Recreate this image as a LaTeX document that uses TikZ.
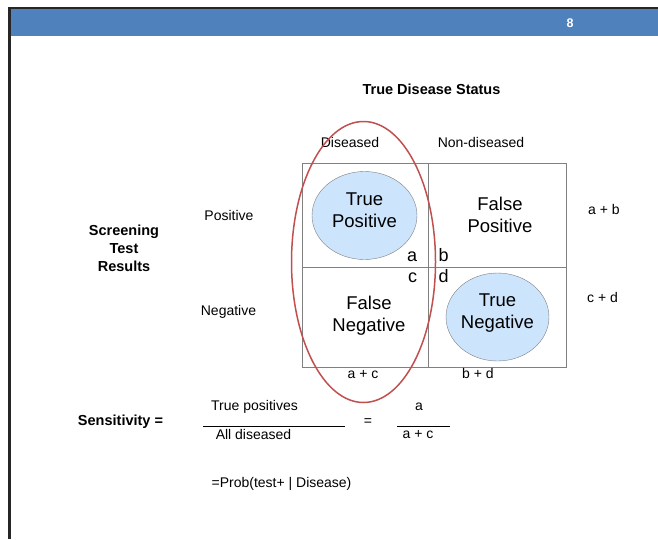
\documentclass[tikz,border=0pt]{standalone}
\usepackage{fontspec}
\setmainfont{Liberation Sans}
\usetikzlibrary{shapes.geometric, positioning}
\definecolor{barblue}{RGB}{79,129,189}
\definecolor{ballblue}{RGB}{204,228,252}
\definecolor{ringred}{RGB}{192,80,77}
\definecolor{gridgray}{RGB}{128,128,128}

\begin{document}
\begin{tikzpicture}[x=1pt, y=-1pt,
        lbl/.style={font=\fontsize{14}{17}\selectfont, inner sep=0pt, anchor=base},
        head/.style={font=\fontsize{14.5}{18}\selectfont\bfseries, align=center, inner sep=0pt},
        cell/.style={font=\fontsize{18.5}{22}\selectfont, align=center, inner sep=0pt},
        corner/.style={font=\fontsize{18}{21}\selectfont, inner sep=0pt, anchor=base},
        ball/.style={ellipse, draw=gridgray, fill=ballblue, minimum width=105pt, minimum height=88pt, inner sep=0pt},
        ring/.style={ellipse, draw=ringred, line width=1.5pt, minimum width=144pt, minimum height=281pt, inner sep=0pt},
        grid/.style={draw=gridgray, line width=0.8pt}
    ]
        \useasboundingbox (0,0) rectangle (658,539);

        % Slide frame
        \fill[barblue] (11,9) rectangle (658,36);
        \draw[black!85, line width=1.5pt] (8,8) -- (658,8);
        \draw[black!85, line width=2.5pt] (9.7,8) -- (9.7,539);
        \node[font=\fontsize{12.5}{14}\selectfont\bfseries, text=white, inner sep=0pt, anchor=base] (page) at (570,27) {8};

        % Table
        \draw[grid] (302,163) rectangle (566,367);
        \draw[grid] (428,163) -- (428,367);
        \draw[grid] (302,267) -- (566,267);

        % Column labels
        \node[head, anchor=base] (status) at (431.5,94) {True Disease Status};
        \node[lbl] (dis) at (350,147) {Diseased};
        \node[lbl] (nondis) at (481,147) {Non-diseased};

        % Row labels
        \node[head] (screen) at (124,248.5) {Screening\\Test\\Results};
        \node[lbl] (pos) at (229,220) {Positive};
        \node[lbl] (neg) at (228.5,315) {Negative};

        % Cells
        \node[ball] (tpball) at (364.5,215.5) {};
        \node[cell] (tp) at (364.5,210.5) {True\\Positive};
        \node[cell] (fp) at (500,215) {False\\Positive};
        \node[cell] (fn) at (369,316) {False\\Negative};
        \node[ball, minimum width=103pt] (tnball) at (497.5,317) {};
        \node[cell] (tn) at (497.5,313) {True\\Negative};

        % Corner letters
        \node[corner] (a) at (412,261) {a};
        \node[corner] (b) at (443.5,261) {b};
        \node[corner] (c) at (412.5,282) {c};
        \node[corner] (d) at (443.5,282) {d};

        % Margins
        \node[lbl] (ac) at (363,378) {a + c};
        \node[lbl] (bd) at (478,378) {b + d};
        \node[lbl] (ab) at (604,214) {a + b};
        \node[lbl] (cd) at (602.5,302) {c + d};

        % Diseased column
        \node[ring] (diseased) at (363.5,262) {};

        % Sensitivity
        \node[head, anchor=base] (sens) at (120.5,425) {Sensitivity =};
        \node[lbl] (tpos) at (254.5,410) {True positives};
        \draw[line width=0.7pt] (203,426) -- (345,426);
        \node[lbl] (alldis) at (253.5,439) {All diseased};
        \node[lbl] (eq) at (368,425) {=};
        \node[lbl] (na) at (419,410) {a};
        \draw[line width=0.7pt] (397,426) -- (450,426);
        \node[lbl] (dac) at (418,438) {a + c};
        \node[lbl] (prob) at (281.5,487) {=Prob(test+ | Disease)};
    \end{tikzpicture}
\end{document}
